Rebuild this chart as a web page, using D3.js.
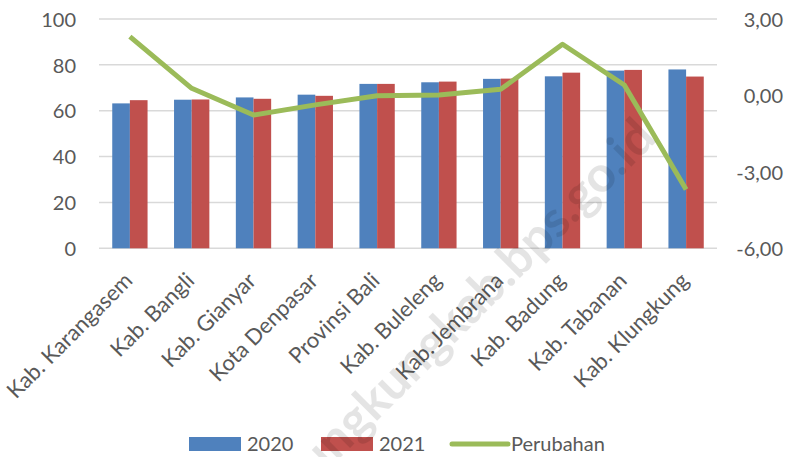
<!DOCTYPE html>
<html>
<head>
<meta charset="utf-8">
<script src="https://cdn.jsdelivr.net/npm/d3@7"></script>
<style>
  body { margin: 0; background: #fff; }
  text { font-family: Lato, "Open Sans", sans-serif; fill: #595959; }
</style>
</head>
<body>
<div id="chart"></div>
<script>
// values
var categories = ["Kab. Karangasem", "Kab. Bangli", "Kab. Gianyar", "Kota Denpasar", "Provinsi Bali",
  "Kab. Buleleng", "Kab. Jembrana", "Kab. Badung", "Kab. Tabanan", "Kab. Klungkung"];
var values2020 = [63.2, 64.8, 65.8, 67.0, 71.7, 72.4, 73.9, 75.0, 77.5, 78.0];
var values2021 = [64.6, 64.9, 65.2, 66.5, 71.7, 72.7, 74.0, 76.6, 77.8, 74.9];
var perubahan = [2.31, 0.28, -0.77, -0.37, -0.01, 0.02, 0.24, 2.01, 0.41, -3.69];
var leftTicks = [0, 20, 40, 60, 80, 100];
var rightTicks = [-6, -3, 0, 3];

var W = 794, H = 457;
var plotLeft = 99, plotRight = 717, plotTop = 19, plotBottom = 248.3;

var svg = d3.select("#chart").append("svg")
  .attr("width", W).attr("height", H);

var x = d3.scaleBand().domain(categories).range([plotLeft, plotRight]).padding(0);
var y = d3.scaleLinear().domain([0, 100]).range([plotBottom, plotTop]);
var y2 = d3.scaleLinear().domain([-6, 3]).range([plotBottom, plotTop]);
var barW = x.bandwidth() / 3.5;

// gridlines
svg.append("g").selectAll("line").data(leftTicks).join("line")
  .attr("x1", plotLeft).attr("x2", plotRight)
  .attr("y1", d => y(d)).attr("y2", d => y(d))
  .attr("stroke", "#d9d9d9").attr("stroke-width", 1.5);

// left axis
var yAxis = d3.axisLeft(y).tickValues(leftTicks).tickSize(0).tickPadding(0);
var gl = svg.append("g").attr("transform", "translate(76,0)").call(yAxis);
gl.select(".domain").remove();
gl.selectAll("text").style("font-size", "20px").attr("dy", "0.36em");

// right axis
var fmt = d => d3.format(".2f")(d).replace(".", ",").replace("\u2212", "-");
var yAxis2 = d3.axisLeft(y2).tickValues(rightTicks).tickSize(0).tickPadding(0).tickFormat(fmt);
var gr = svg.append("g").attr("transform", "translate(783,0)").call(yAxis2);
gr.select(".domain").remove();
gr.selectAll("text").style("font-size", "20px").attr("dy", "0.36em");

// bars
var cx = d => x(d) + x.bandwidth() / 2;
svg.append("g").selectAll("rect").data(categories).join("rect")
  .attr("x", d => cx(d) - barW)
  .attr("y", (d, i) => y(values2020[i]))
  .attr("width", barW)
  .attr("height", (d, i) => y(0) - y(values2020[i]))
  .attr("fill", "#4f81bd");
svg.append("g").selectAll("rect").data(categories).join("rect")
  .attr("x", d => cx(d))
  .attr("y", (d, i) => y(values2021[i]))
  .attr("width", barW)
  .attr("height", (d, i) => y(0) - y(values2021[i]))
  .attr("fill", "#c0504d");

// line
var line = d3.line().x((d, i) => cx(categories[i])).y(d => y2(d));
svg.append("path").datum(perubahan)
  .attr("d", line)
  .attr("fill", "none")
  .attr("stroke", "#9bbb59")
  .attr("stroke-width", 5)
  .attr("stroke-linejoin", "round");

// category labels
svg.append("g").selectAll("text").data(categories).join("text")
  .attr("transform", d => "translate(" + (cx(d) + 4) + ",282) rotate(-45)")
  .attr("text-anchor", "end")
  .style("font-size", "22px")
  .text(d => d);

// legend
var lg = svg.append("g");
lg.append("rect").attr("x", 189).attr("y", 437).attr("width", 52).attr("height", 14).attr("fill", "#4f81bd");
lg.append("text").attr("x", 247).attr("y", 451).style("font-size", "20px").text("2020");
lg.append("rect").attr("x", 321).attr("y", 437).attr("width", 52).attr("height", 14).attr("fill", "#c0504d");
lg.append("text").attr("x", 379).attr("y", 451).style("font-size", "20px").text("2021");
lg.append("line").attr("x1", 452).attr("x2", 508).attr("y1", 444).attr("y2", 444)
  .attr("stroke", "#9bbb59").attr("stroke-width", 5).attr("stroke-linecap", "round");
lg.append("text").attr("x", 511).attr("y", 451).style("font-size", "20px").text("Perubahan");

// watermark
svg.append("text")
  .attr("transform", "translate(658,140) rotate(-45)")
  .attr("text-anchor", "end")
  .style("font-size", "50px").style("font-weight", "bold")
  .style("fill", "#000").style("opacity", 0.1)
  .text("klungkungkab.bps.go.id");
</script>
</body>
</html>
